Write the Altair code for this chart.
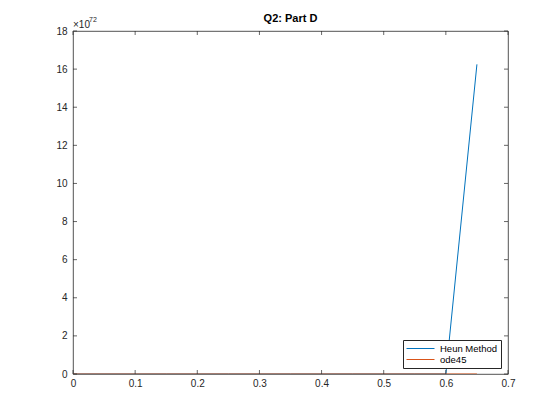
import altair as alt
import pandas as pd

# ---- data ----
x_vals = [0.0, 0.05, 0.1, 0.15, 0.2, 0.25, 0.3, 0.35, 0.4, 0.45, 0.5, 0.55, 0.6, 0.65]
heun = [1.0, 1.06, 1.13, 1.22, 1.34, 1.5, 1.73, 2.08, 2.7, 4.0, 8.5, 60.0, 3.8e12, 1.625e73]
ode45 = [1.0, 1.05, 1.12, 1.21, 1.33, 1.49, 1.72, 2.07, 2.68, 3.95, 8.2, 52.0, 1.2e10, 2.5e40]
series_names = ["Heun Method", "ode45"]
series_colors = ["#0072BD", "#D95319"]
x_ticks = [0, 0.1, 0.2, 0.3, 0.4, 0.5, 0.6, 0.7]
y_ticks = [0, 2, 4, 6, 8, 10, 12, 14, 16, 18]
exponent = 72
title_text = "Q2: Part D"

W, H = 435, 343
FONT = "Liberation Sans"
AX = "#262626"

rows = []
for name, vals in zip(series_names, [heun, ode45]):
    for xv, yv in zip(x_vals, vals):
        rows.append({"x": xv, "y": yv / 10 ** exponent, "series": name})
df = pd.DataFrame(rows)

xs = alt.Scale(domain=[0, 0.7], nice=False, zero=False)
ys = alt.Scale(domain=[0, 18], nice=False, zero=False)

xaxis = alt.Axis(values=x_ticks, ticks=False, domain=False, grid=False,
                 labelFontSize=10, labelColor=AX, labelFont=FONT,
                 labelPadding=4, format="~g", title=None,
                 labelOverlap=False, labelFlush=False)
yaxis = alt.Axis(values=y_ticks, ticks=False, domain=False, grid=False,
                 labelFontSize=10, labelColor=AX, labelFont=FONT,
                 labelPadding=6, format="~g", title=None,
                 labelOverlap=False, labelFlush=False)

lines = alt.Chart(df).mark_line(strokeWidth=1, clip=True).encode(
    x=alt.X("x:Q", scale=xs, axis=xaxis),
    y=alt.Y("y:Q", scale=ys, axis=yaxis),
    color=alt.Color("series:N",
                    scale=alt.Scale(domain=series_names, range=series_colors),
                    legend=alt.Legend(orient="none", legendX=330, legendY=309,
                                      title=None, symbolType="stroke",
                                      symbolSize=784, symbolStrokeWidth=1,
                                      labelFont=FONT, labelFontSize=9.5,
                                      labelColor="#000000",
                                      fillColor="white", strokeColor="#262626",
                                      padding=3, rowPadding=0, cornerRadius=0,
                                      clipHeight=11, labelOffset=5)),
    order=alt.Order("x:Q"),
)

xt = pd.DataFrame({"x": x_ticks})
yt = pd.DataFrame({"y": y_ticks})

tick_bottom = alt.Chart(xt).mark_rule(color=AX, strokeWidth=0.7).encode(
    x=alt.X("x:Q", scale=xs, axis=xaxis), y=alt.value(H), y2=alt.value(H - 4))
tick_top = alt.Chart(xt).mark_rule(color=AX, strokeWidth=0.7).encode(
    x=alt.X("x:Q", scale=xs, axis=xaxis), y=alt.value(0), y2=alt.value(4))
tick_left = alt.Chart(yt).mark_rule(color=AX, strokeWidth=0.7).encode(
    y=alt.Y("y:Q", scale=ys, axis=yaxis), x=alt.value(0), x2=alt.value(4))
tick_right = alt.Chart(yt).mark_rule(color=AX, strokeWidth=0.7).encode(
    y=alt.Y("y:Q", scale=ys, axis=yaxis), x=alt.value(W), x2=alt.value(W - 4))

title = alt.Chart(pd.DataFrame({"t": [title_text]})).mark_text(
    font=FONT, fontSize=11, fontWeight="bold", color="#000000", baseline="middle"
).encode(text="t:N", x=alt.value(W / 2), y=alt.value(-12))

exp_base = alt.Chart(pd.DataFrame({"t": ["×10"]})).mark_text(
    font=FONT, fontSize=10, color=AX, align="left", baseline="middle"
).encode(text="t:N", x=alt.value(0), y=alt.value(-6))
exp_pow = alt.Chart(pd.DataFrame({"t": [str(exponent)]})).mark_text(
    font=FONT, fontSize=7, color=AX, align="left", baseline="middle"
).encode(text="t:N", x=alt.value(16), y=alt.value(-11))

chart = alt.layer(
    lines, tick_bottom, tick_top, tick_left, tick_right, title, exp_base, exp_pow
).properties(
    width=W, height=H,
    autosize=alt.AutoSizeParams(type="none"),
    padding={"left": 65, "top": 23, "right": 36, "bottom": 30},
    background="white",
).configure_view(stroke=AX, strokeWidth=0.8)

chart.save("out.html", embed_options={"renderer": "svg", "actions": False})
